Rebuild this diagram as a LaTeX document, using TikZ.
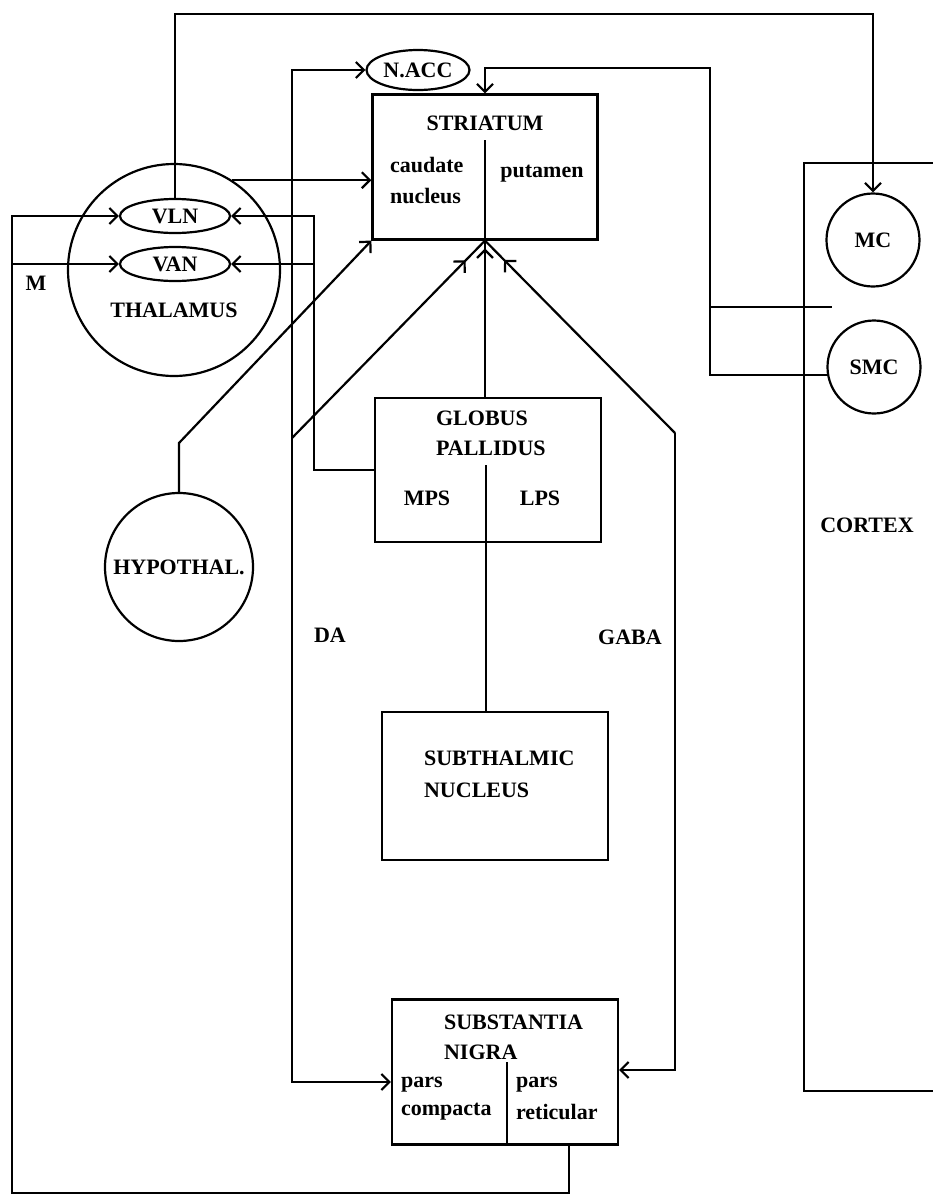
\documentclass[tikz,border=0pt]{standalone}
\usepackage{fontspec}
\setmainfont{Liberation Serif}
\usetikzlibrary{arrows.meta,shapes.geometric,decorations.markings}
\begin{document}
\begin{tikzpicture}[x=1pt,y=-1pt,line width=2.2pt,inner sep=0pt,
    font=\fontsize{22}{26}\selectfont\bfseries,
    >={Straight Barb[length=8pt,width=16pt]},
    box/.style={draw,rectangle,minimum width=226pt,minimum height=145pt},
    oval/.style={draw,ellipse,minimum width=110pt,minimum height=34pt},
    ring/.style={draw,circle},
    tipat/.style={postaction={decorate},decoration={markings,
        mark=at position #1 with {\arrow{Straight Barb[length=8pt,width=16pt]}}}}]
    \useasboundingbox (0,0) rectangle (933,1203);

    \node[ring,minimum size=212pt] (thal) at (174,270) {};
    \node (thallbl) at (174,310) {THALAMUS};
    \node[oval] (vln) at (175,216) {VLN};
    \node[oval] (van) at (175,264) {VAN};
    \node[oval,minimum width=103pt,minimum height=40pt] (nacc) at (418,70) {N.ACC};
    \node[ring,minimum size=148pt] (hyp) at (179,567) {HYPOTHAL.};
    \node (mlbl) at (36,283) {M};

    \node[box,minimum width=225pt] (str) at (485,167) {};
    \node (strlbl) at (485,123) {STRIATUM};
    \node[anchor=west] (caud) at (389,165) {caudate};
    \node[anchor=west] (nucl) at (389,196) {nucleus};
    \node (put) at (542,174) {putamen};
    \coordinate (strdiv) at (485,140);
    \draw (strdiv) -- (str.south);

    \node[box,minimum height=144pt] (gp) at (488,470) {};
    \node[anchor=west] (gplbl) at (435,418) {GLOBUS};
    \node[anchor=west] (gplbl2) at (435,448) {PALLIDUS};
    \node (mps) at (427,498) {MPS};
    \node (lps) at (540,498) {LPS};
    \coordinate (gpdiv) at (486,465);
    \draw (gpdiv) -- (gpdiv |- gp.south);

    \node[box,minimum height=148pt] (stn) at (495,786) {};
    \node[anchor=west] (stnlbl) at (423,758) {SUBTHALMIC};
    \node[anchor=west] (stnlbl2) at (423,790) {NUCLEUS};

    \node[box] (sn) at (505,1072) {};
    \node[anchor=west] (snlbl) at (443,1022) {SUBSTANTIA};
    \node[anchor=west] (snlbl2) at (443,1052) {NIGRA};
    \node[anchor=west] (pc1) at (400,1085) {pars};
    \node[anchor=west] (pc2) at (400,1112) {compacta};
    \node[anchor=west] (pr1) at (515,1085) {pars};
    \node[anchor=west] (pr2) at (515,1112) {reticular};
    \coordinate (sndiv) at (507,1062);
    \draw (sndiv) -- (sndiv |- sn.south);

    \draw (933,163) -| (804,1091) -- (933,1091);
    \node[ring,minimum size=93pt] (mc) at (873,240) {MC};
    \node[ring,minimum size=93pt] (smc) at (874,367) {SMC};
    \node (ctx) at (867,525) {CORTEX};

    \node (dalbl) at (330,635) {DA};
    \node (gabalbl) at (630,637) {GABA};

    \coordinate (topy) at (0,14);
    \draw[->] (vln.north) -- (vln.north |- topy) -| (mc.north);
    \draw[->] (thal.57) -- (thal.57 -| str.west);

    \coordinate (mleft) at (12,1193);
    \draw[->] ([xshift=-50pt]sn.south east) |- (mleft) |- (vln.west);
    \draw[->] (mleft |- van.west) -- (van.west);

    \coordinate (gpbend) at (314,0);
    \draw[->] (gp.west) -| (gpbend |- vln.east) -- (vln.east);
    \draw[->] (gpbend |- van.east) -- (van.east);

    \coordinate (dabend) at (292,1082);
    \coordinate (dajoin) at (292,438);
    \draw[<->] (nacc.west) -| (dabend) -- (dabend -| sn.west);
    \draw[tipat=0.9] (dajoin) -- (str.south);

    \coordinate (hypbend) at (179,443);
    \draw[->] (hyp.north) -- (hypbend) -- (str.south west);

    \coordinate (gababot) at (675,1070);
    \coordinate (gabatop) at (675,433);
    \draw[<-] (gababot -| sn.east) -| (gabatop);
    \draw[tipat=0.9] (gabatop) -- (str.south);

    \draw[tipat=0.95] (str.south |- gp.north) -- (str.south);
    \draw (gpdiv |- gp.south) -- (gpdiv |- stn.north);

    \coordinate (smcbend) at (710,68);
    \coordinate (ctxin) at (832,307);
    \draw[->] (smc.190) -| (smcbend) -| (str.north);
    \draw (smcbend |- ctxin) -- (ctxin);
\end{tikzpicture}
\end{document}
